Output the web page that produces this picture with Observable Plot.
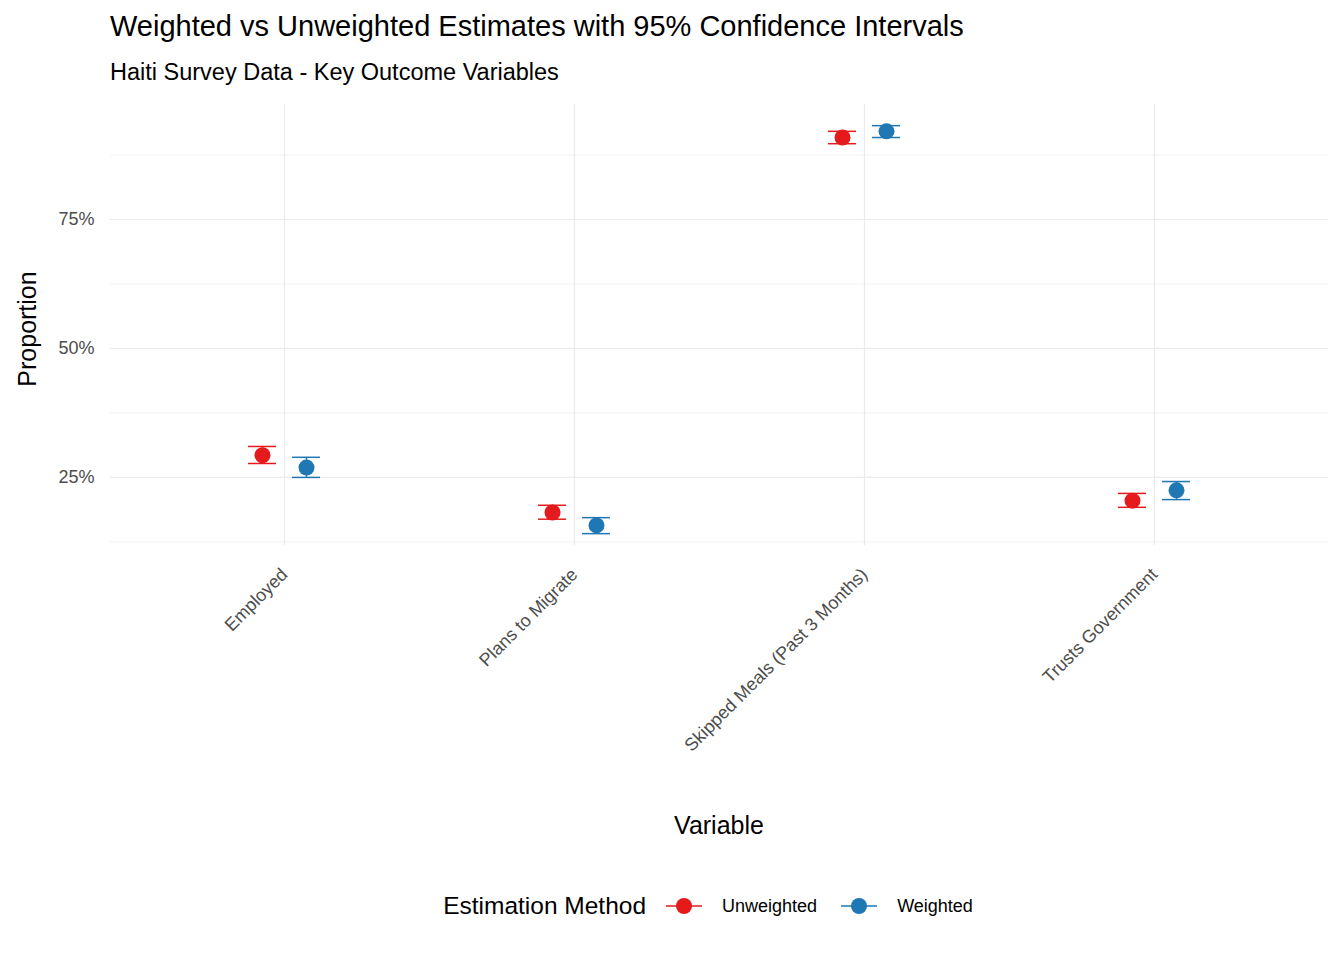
<!DOCTYPE html>
<html><head><meta charset="utf-8">
<script src="https://cdn.jsdelivr.net/npm/d3@7"></script>
<script src="https://cdn.jsdelivr.net/npm/@observablehq/plot@0.6"></script>
<style>
body{margin:0;background:#fff;font-family:Arial,"Liberation Sans",sans-serif;width:1344px}
#t{position:absolute;left:110px;top:10px;font-size:29px;color:#000}
#s{position:absolute;left:110px;top:59px;font-size:23.5px;color:#000}
#c{position:absolute;left:0;top:95px}
#lg{position:absolute;left:0;top:892px;width:1344px;display:flex;justify-content:center;align-items:center;font-size:18px;padding-left:94px;box-sizing:border-box}
#lg .ti{font-size:24.5px;margin-right:18px}
#lg .it{display:flex;align-items:center;margin-right:22px}
#lg svg{margin-right:18px}
#c svg g[aria-label="x-axis tick label"] text, #c svg g[aria-label="y-axis tick label"] text{font-size:18px}
</style></head><body>
<div id="t">Weighted vs Unweighted Estimates with 95% Confidence Intervals</div>
<div id="s">Haiti Survey Data - Key Outcome Variables</div>
<div id="c"></div>
<div id="lg"></div>
<script>
const variables = ["Employed","Plans to Migrate","Skipped Meals (Past 3 Months)","Trusts Government"];
const methods = ["Unweighted","Weighted"];
const colors = ["#E41A1C","#1F78B4"];
const unwEst = [0.293,0.182,0.909,0.205];
const unwLow = [0.277,0.169,0.897,0.192];
const unwHigh= [0.310,0.196,0.921,0.219];
const wEst = [0.269,0.157,0.921,0.225];
const wLow = [0.250,0.141,0.909,0.207];
const wHigh= [0.289,0.172,0.932,0.242];

const series = [
  {m:methods[0], est:unwEst, lo:unwLow, hi:unwHigh, dx:-22, c:colors[0]},
  {m:methods[1], est:wEst, lo:wLow, hi:wHigh, dx:22, c:colors[1]}
];
const marks = [
  Plot.ruleY([0.125,0.375,0.625,0.875],{stroke:"#ebebeb",strokeWidth:0.6}),
  Plot.ruleY([0.25,0.5,0.75],{stroke:"#ebebeb",strokeWidth:1.2}),
  Plot.gridX({stroke:"#ebebeb",strokeOpacity:1,strokeWidth:1.2}),
];
for (const s of series) {
  const d = variables.map((v,i)=>({v,est:s.est[i],lo:s.lo[i],hi:s.hi[i]}));
  marks.push(Plot.ruleX(d,{x:"v",y1:"lo",y2:"hi",dx:s.dx,stroke:s.c,strokeWidth:1.5}));
  marks.push(Plot.tickY(d,{x:"v",y:"lo",dx:s.dx,stroke:s.c,strokeWidth:1.5}));
  marks.push(Plot.tickY(d,{x:"v",y:"hi",dx:s.dx,stroke:s.c,strokeWidth:1.5}));
  marks.push(Plot.dot(d,{x:"v",y:"est",dx:s.dx,r:8,fill:s.c}));
}
const chart = Plot.plot({
  width:1344, height:760, marginTop:9, marginLeft:110, marginRight:16, marginBottom:310,
  style:{fontFamily:"Arial, Liberation Sans, sans-serif",fontSize:"18px",color:"#4d4d4d",background:"#fff"},
  x:{type:"band", domain:variables, paddingInner:0.9034, paddingOuter:0.549, label:null},
  y:{domain:[0.118,0.973], label:null},
  marks:[
    ...marks,
    Plot.axisY({ticks:[0.25,0.5,0.75],tickFormat:d=>Math.round(d*100)+"%",tickSize:0,tickPadding:16,fill:"#4d4d4d",label:null}),
    Plot.axisX({tickSize:0,tickRotate:-45,tickPadding:26,fill:"#4d4d4d",label:null}),
  ]
});
document.getElementById("c").appendChild(chart);
const svg = d3.select(chart);
svg.append("text").attr("x",719).attr("y",739).attr("text-anchor","middle").attr("font-size",25).attr("fill","#000").text("Variable");
svg.append("text").attr("transform","translate(36,234) rotate(-90)").attr("text-anchor","middle").attr("font-size",25).attr("fill","#000").text("Proportion");
const lg = d3.select("#lg");
lg.append("span").attr("class","ti").text("Estimation Method");
methods.forEach((m,i)=>{
  const it = lg.append("span").attr("class","it");
  const s = it.append("svg").attr("width",40).attr("height",20);
  s.append("line").attr("x1",2).attr("x2",38).attr("y1",10).attr("y2",10).attr("stroke",colors[i]).attr("stroke-width",1.5);
  s.append("circle").attr("cx",20).attr("cy",10).attr("r",8).attr("fill",colors[i]);
  it.append("span").text(m);
});
</script></body></html>
